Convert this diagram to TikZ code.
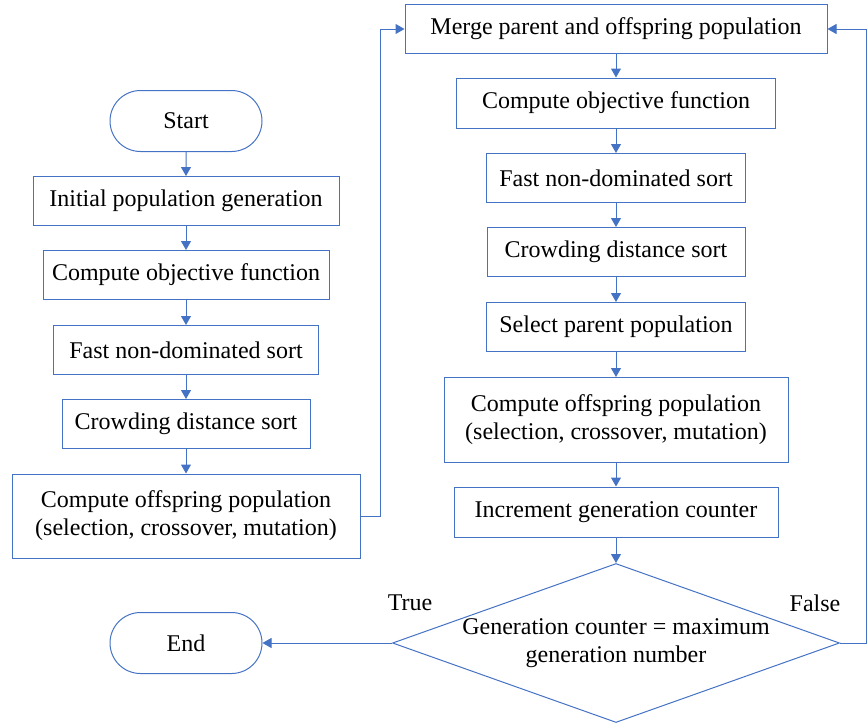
\documentclass[tikz,border=0pt]{standalone}
\usepackage{fontspec}
\setmainfont{Liberation Serif}
\usetikzlibrary{shapes.geometric, shapes.misc, arrows.meta}
\definecolor{flowblue}{HTML}{4472C4}
\tikzset{
    proc/.style={
        draw=flowblue,
        line width=0.5pt,
        rectangle,
        minimum height=24.5pt,
        align=center,
        inner sep=0pt
    },
    term/.style={
        draw=flowblue,
        line width=0.5pt,
        rounded rectangle,
        minimum width=76pt,
        minimum height=30.5pt,
        inner sep=0pt
    },
    decide/.style={
        draw=flowblue,
        line width=0.5pt,
        diamond,
        aspect=2.8,
        inner sep=0pt,
        align=center,
        minimum width=223.5pt,
        minimum height=79.5pt
    },
    flow/.style={
        draw=flowblue,
        line width=0.5pt,
        -{Triangle[length=4.5pt,width=5pt]}
    }
}

\begin{document}
\begin{tikzpicture}[x=0.5pt,y=-0.5pt,font=\fontsize{12}{14}\selectfont]
	\useasboundingbox (0,0) rectangle (868,725);
	% left column
	\node[term] (start) at (186,121) {Start};
	\node[proc, minimum width=153pt] (init) at (186,201) {Initial population generation};
	\node[proc, minimum width=143pt] (objL) at (186,275) {Compute objective function};
	\node[proc, minimum width=132.5pt] (fastL) at (186,350) {Fast non-dominated sort};
	\node[proc, minimum width=124pt] (crowdL) at (186,424) {Crowding distance sort};
	\node[proc, minimum width=174pt, minimum height=42pt] (offL) at (186,516) {Compute offspring population\\(selection, crossover, mutation)};
	\node[term] (end) at (186,643) {End};
	% right column
	\node[proc, minimum width=211pt] (merge) at (616,29) {Merge parent and offspring population};
	\node[proc, minimum width=159.5pt, minimum height=25pt] (objR) at (616,103) {Compute objective function};
	\node[proc, minimum width=129.5pt] (fastR) at (616,178) {Fast non-dominated sort};
	\node[proc, minimum width=129pt] (crowdR) at (616,252) {Crowding distance sort};
	\node[proc, minimum width=129.5pt] (select) at (616,327) {Select parent population};
	\node[proc, minimum width=172pt, minimum height=42.5pt] (offR) at (616,420) {Compute offspring population\\(selection, crossover, mutation)};
	\node[proc, minimum width=162pt, minimum height=25pt] (incr) at (616,512) {Increment generation counter};
	\node[decide] (cond) at (616,643) {Generation counter = maximum\\generation number};
	\node (truelbl) at (410,603) {True};
	\node (falselbl) at (815,603) {False};
	\coordinate (rturn) at (866,643);
	% connectors
	\draw[flow] (start) -- (init);
	\draw[flow] (init) -- (objL);
	\draw[flow] (objL) -- (fastL);
	\draw[flow] (fastL) -- (crowdL);
	\draw[flow] (crowdL) -- (offL);
	\draw[flow] (offL.east) -- ++(20,0) |- (merge.west);
	\draw[flow] (merge) -- (objR);
	\draw[flow] (objR) -- (fastR);
	\draw[flow] (fastR) -- (crowdR);
	\draw[flow] (crowdR) -- (select);
	\draw[flow] (select) -- (offR);
	\draw[flow] (offR) -- (incr);
	\draw[flow] (incr) -- (cond);
	\draw[flow] (cond.west) -- (end.east);
	\draw[flow] (cond.east) -- (rturn) |- (merge.east);
\end{tikzpicture}
\end{document}
